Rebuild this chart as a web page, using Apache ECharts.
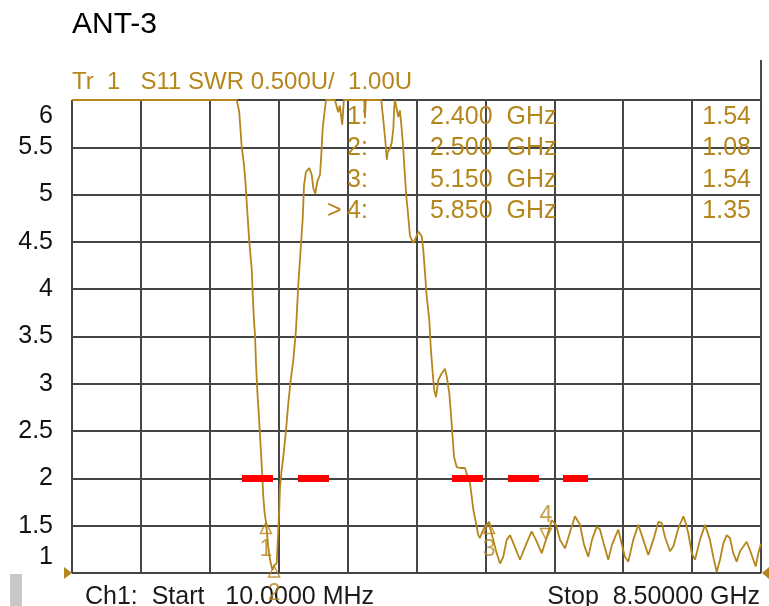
<!DOCTYPE html>
<html>
<head>
<meta charset="utf-8">
<script src="https://cdn.jsdelivr.net/npm/echarts@6/dist/echarts.min.js"></script>
<style>
  html, body { margin: 0; padding: 0; background: #fff; }
  #chart { width: 769px; height: 606px; }
</style>
</head>
<body>
<div id="chart"></div>
<script>
// trace S11 SWR, frequency in GHz
const freqGHz = [0.01, 2.04, 2.06, 2.07, 2.10, 2.13, 2.15, 2.17, 2.195, 2.224, 2.237, 2.253, 2.265, 2.277, 2.293, 2.318, 2.339, 2.355, 2.367, 2.384, 2.40, 2.425, 2.45, 2.48, 2.50,
  2.532, 2.552, 2.564, 2.573, 2.594, 2.614, 2.647, 2.675, 2.705, 2.737, 2.770, 2.798, 2.828, 2.853, 2.869, 2.893, 2.934, 2.964, 2.983, 3.008, 3.033, 3.066, 3.082, 3.099, 3.127, 3.14,
  3.25, 3.29, 3.31, 3.34, 3.36, 3.61, 3.62, 3.63, 3.82, 3.84, 3.87, 3.89, 3.90, 3.93, 3.95, 3.97, 3.98, 3.99, 4.01, 4.03, 4.05, 4.07, 4.09, 4.11, 4.13, 4.15, 4.175,
  4.215, 4.236, 4.277, 4.319, 4.339, 4.36, 4.381, 4.413, 4.43, 4.455, 4.474, 4.495, 4.524, 4.565, 4.606, 4.627, 4.659, 4.676, 4.696, 4.717, 4.75, 4.791, 4.853, 4.873,
  4.914, 4.935, 4.955, 4.988, 5.016, 5.037, 5.058, 5.078, 5.099, 5.15, 5.161, 5.201, 5.243, 5.284, 5.324, 5.366, 5.407, 5.456, 5.53, 5.604, 5.674, 5.727, 5.798, 5.85,
  5.921, 5.974, 6.023, 6.085, 6.146, 6.208, 6.27, 6.319, 6.372, 6.417, 6.475, 6.516, 6.565, 6.618, 6.664, 6.741, 6.783, 6.824, 6.865, 6.926, 6.988, 7.05, 7.111, 7.173,
  7.234, 7.276, 7.317, 7.378, 7.419, 7.481, 7.543, 7.572, 7.604, 7.646, 7.687, 7.748, 7.81, 7.871, 7.912, 7.954, 7.995, 8.035, 8.077, 8.118, 8.158, 8.20, 8.241, 8.323,
  8.364, 8.435, 8.467, 8.50]
const swr = [6, 6, 5.98, 5.88, 5.52, 5.31, 5.10, 4.82, 4.50, 4.22, 3.94, 3.66, 3.52, 3.22, 2.93, 2.59, 2.27, 2.02, 1.81, 1.63, 1.54, 1.30, 1.14, 1.03, 1.08,
  1.10, 1.46, 1.67, 1.91, 2.09, 2.23, 2.51, 2.79, 3.04, 3.25, 3.57, 4.04, 4.43, 4.75, 5.10, 5.24, 5.28, 5.21, 5.07, 5.01, 5.14, 5.21, 5.42, 5.70, 5.91, 6,
  6, 5.87, 5.94, 5.74, 6, 6, 5.81, 6, 6, 5.84, 5.58, 5.37, 5.45, 5.49, 5.55, 5.70, 5.92, 6, 6, 5.82, 5.89, 5.72, 5.51, 5.23, 4.98, 4.80, 4.56,
  4.49, 4.52, 4.61, 4.56, 4.41, 4.17, 3.92, 3.67, 3.39, 3.11, 2.93, 2.86, 3.04, 3.11, 3.16, 3.08, 2.90, 2.72, 2.48, 2.23, 2.12, 2.11, 2.11, 2.05,
  1.95, 1.81, 1.67, 1.53, 1.40, 1.37, 1.42, 1.40, 1.49, 1.54, 1.48, 1.35, 1.21, 1.10, 1.17, 1.35, 1.40, 1.30, 1.14, 1.30, 1.44, 1.35, 1.21, 1.35,
  1.56, 1.51, 1.35, 1.26, 1.43, 1.60, 1.51, 1.30, 1.17, 1.35, 1.49, 1.46, 1.30, 1.14, 1.30, 1.46, 1.31, 1.17, 1.12, 1.35, 1.51, 1.35, 1.19, 1.35,
  1.54, 1.53, 1.38, 1.23, 1.28, 1.47, 1.60, 1.53, 1.42, 1.21, 1.14, 1.35, 1.51, 1.35, 1.17, 1.01, 1.14, 1.31, 1.40, 1.37, 1.21, 1.12, 1.23, 1.33,
  1.24, 1.07, 1.21, 1.31]

// markers
const markerFreqs = [2.4, 2.5, 5.15, 5.85]
const markerVals = [1.54, 1.08, 1.54, 1.35]
const activeMarker = 3

// red limit dashes at SWR 2
const limitSwr = 2
const limitStart = [2.105, 2.795, 4.692, 5.382, 6.060]
const limitEnd = [2.487, 3.177, 5.074, 5.764, 6.368]

const startMHz = 10
const stopGHz = 8.5
const gold = '#B5861C'
const font = '"Liberation Sans", Arial, sans-serif'

const chart = echarts.init(document.getElementById('chart'))

const traceData = freqGHz.map((f, i) => [f, swr[i]])

const series = [
  {
    type: 'line',
    data: traceData,
    showSymbol: false,
    lineStyle: { color: gold, width: 1.8 },
    z: 3,
    animation: false
  }
]
limitStart.forEach((s, i) => {
  series.push({
    type: 'line',
    data: [[s, limitSwr], [limitEnd[i], limitSwr]],
    showSymbol: false,
    lineStyle: { color: '#ff0000', width: 7, cap: 'butt' },
    z: 4,
    animation: false
  })
})
// marker triangles
series.push({
  type: 'scatter',
  data: markerFreqs.map((f, i) => ({
    value: [f, markerVals[i]],
    symbolRotate: i === activeMarker ? 180 : 0,
    symbolOffset: i === activeMarker ? [0, -6] : [0, 6],
    label: {
      show: true,
      formatter: String(i + 1),
      position: i === activeMarker ? 'top' : 'bottom',
      distance: i === activeMarker ? 0 : 4,
      color: gold,
      fontSize: 23,
      fontFamily: font
    }
  })),
  symbol: 'triangle',
  symbolSize: [11, 11],
  itemStyle: { color: 'rgba(255,255,255,0)', borderColor: gold, borderWidth: 1.5 },
  z: 5,
  clip: false,
  animation: false
})

const graphic = [
  { type: 'text', x: 72, y: 25, style: { text: 'ANT-3', fill: '#000', font: '30px ' + font, verticalAlign: 'middle' } },
  { type: 'text', x: 72, y: 82, style: { text: 'Tr  1   S11 SWR 0.500U/  1.00U', fill: gold, font: '24px ' + font, verticalAlign: 'middle' } },
  { type: 'text', x: 85, y: 597, style: { text: 'Ch1:  Start   ' + startMHz.toFixed(4) + ' MHz', fill: '#1a1a1a', font: '25px ' + font, verticalAlign: 'middle' } },
  { type: 'text', x: 760, y: 597, style: { text: 'Stop  ' + stopGHz.toFixed(5) + ' GHz', fill: '#1a1a1a', font: '25px ' + font, align: 'right', verticalAlign: 'middle' } },
  { type: 'rect', shape: { x: 10, y: 574, width: 12, height: 32 }, style: { fill: '#c8c8c8' } },
  { type: 'polygon', shape: { points: [[64, 567], [72, 573], [64, 579]] }, style: { fill: gold } },
  { type: 'polygon', shape: { points: [[769, 567], [762, 573], [769, 579]] }, style: { fill: gold } },
  { type: 'line', shape: { x1: 761, y1: 60, x2: 761, y2: 100 }, style: { stroke: '#4a4a4a', lineWidth: 2 } }
]
markerFreqs.forEach((f, i) => {
  const y = 117 + i * 31.5
  graphic.push({ type: 'text', x: 347, y: y, z: 10, style: { text: (i + 1) + ':', fill: gold, font: '25px ' + font, verticalAlign: 'middle' } })
  if (i === activeMarker) {
    graphic.push({ type: 'text', x: 327, y: y, z: 10, style: { text: '>', fill: gold, font: '25px ' + font, verticalAlign: 'middle' } })
  }
  graphic.push({ type: 'text', x: 430, y: y, z: 10, style: { text: f.toFixed(3) + '  GHz', fill: gold, font: '25px ' + font, verticalAlign: 'middle' } })
  graphic.push({ type: 'text', x: 751, y: y, z: 10, style: { text: markerVals[i].toFixed(2), fill: gold, font: '25px ' + font, align: 'right', verticalAlign: 'middle' } })
})

const option = {
  animation: false,
  grid: { left: 72, right: 8, top: 100, bottom: 33 },
  xAxis: [
    {
      type: 'value', min: 0.01, max: stopGHz, show: false
    },
    {
      // division grid: 10 divisions
      type: 'value', min: 0, max: 10, interval: 1,
      axisLine: { show: false }, axisTick: { show: false }, axisLabel: { show: false },
      splitLine: { show: true, lineStyle: { color: '#454545', width: 2 } }
    }
  ],
  yAxis: {
    type: 'value', min: 1, max: 6, interval: 0.5,
    axisLine: { show: false }, axisTick: { show: false },
    splitLine: { show: true, lineStyle: { color: '#454545', width: 2 } },
    axisLabel: {
      margin: 19,
      color: '#111',
      fontSize: 25,
      fontFamily: font,
      formatter: v => v === 6 ? '{top|6}' : v === 1 ? '{bot|1}' : String(v),
      rich: {
        top: { fontSize: 25, fontFamily: font, color: '#111', padding: [32, 0, 0, 0] },
        bot: { fontSize: 25, fontFamily: font, color: '#111', padding: [0, 0, 32, 0] }
      }
    }
  },
  series: series,
  graphic: graphic
}
chart.setOption(option)
</script>
</body>
</html>
